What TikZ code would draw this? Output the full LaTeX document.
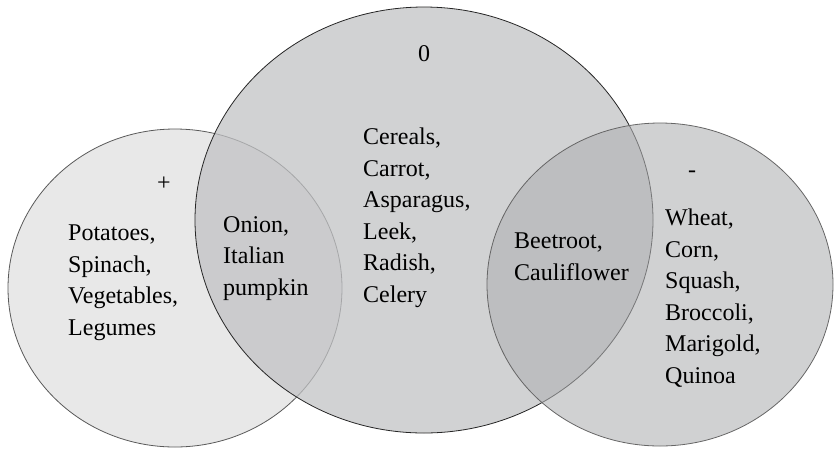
\documentclass[tikz,border=0pt]{standalone}
\usepackage{fontspec}
\setmainfont{Liberation Serif}
\usepackage{xcolor}

\definecolor{plusfill}{HTML}{E8E8E8}
\definecolor{zerofill}{RGB}{193,194,196}
\definecolor{minusfill}{RGB}{175,176,178}

\begin{document}
\begin{tikzpicture}[x=1pt,y=-1pt,
      vtext/.style={font=\fontsize{24}{31.5}\selectfont, inner sep=0pt},
      vlist/.style={vtext, align=left, anchor=base west},
      vsign/.style={vtext, anchor=base}]
         \useasboundingbox (0,0) rectangle (834,448);

         % the three sets
         \draw[fill=plusfill, draw=black!65, line width=0.8pt]
            (175,288) ellipse [x radius=167pt, y radius=159pt];
         \draw[fill=zerofill, fill opacity=0.74, draw=black!85, line width=0.8pt]
            (424,220) ellipse [x radius=229pt, y radius=213pt];
         \draw[fill=minusfill, fill opacity=0.59, draw=black!60, line width=0.8pt]
            (660,284.5) ellipse [x radius=173pt, y radius=161.5pt];

         % signs
         \node[vsign,name=plus]  at (164,190) {+};
         \node[vsign,name=zero]  at (424,61)  {0};
         \node[vsign,name=minus] at (692,177) {-};

         % contents (placed at the baseline of the last line)
         \node[vlist,name=plusonly]  at (68,335)  {Potatoes,\\Spinach,\\Vegetables,\\Legumes};
         \node[vlist,name=pluszero]  at (223,295) {Onion,\\Italian\\pumpkin};
         \node[vlist,name=zeroonly]  at (363,302) {Cereals,\\Carrot,\\Asparagus,\\Leek,\\Radish,\\Celery};
         \node[vlist,name=zerominus] at (514,280) {Beetroot,\\Cauliflower};
         \node[vlist,name=minusonly] at (665,383) {Wheat,\\Corn,\\Squash,\\Broccoli,\\Marigold,\\Quinoa};
      \end{tikzpicture}
\end{document}
